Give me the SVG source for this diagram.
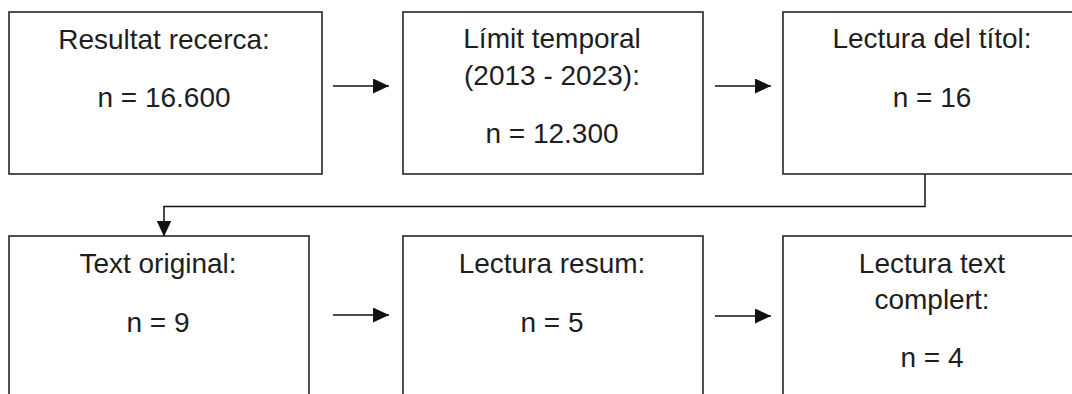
<svg xmlns="http://www.w3.org/2000/svg" width="1072" height="394" viewBox="0 0 1072 394">
  <style>
    .box { fill: #ffffff; stroke: #262626; stroke-width: 1.6; }
    .lbl { font-family: "Liberation Sans", Arial, sans-serif; font-size: 28px; fill: #1e1e1e; text-anchor: middle; }
    .link { fill: none; stroke: #111111; stroke-width: 1.5; }
  </style>
  <defs>
    <marker id="head" markerUnits="userSpaceOnUse" markerWidth="16" markerHeight="15" refX="16" refY="7.5" orient="auto">
      <path d="M0,0 L16,7.5 L0,15 z" fill="#111111"/>
    </marker>
  </defs>
  <rect width="1072" height="394" fill="#ffffff"/>

  <g id="connectors">
    <line class="link" x1="333" y1="86" x2="389" y2="86" marker-end="url(#head)"/>
    <line class="link" x1="715" y1="86" x2="771" y2="86" marker-end="url(#head)"/>
    <path class="link" d="M925,174 V206.5 H164 V236.5" marker-end="url(#head)"/>
    <line class="link" x1="333" y1="315" x2="389" y2="315" marker-end="url(#head)"/>
    <line class="link" x1="715" y1="316" x2="771" y2="316" marker-end="url(#head)"/>
  </g>

  <g id="resultat">
    <rect class="box" x="9" y="12" width="313" height="162"/>
    <text class="lbl" x="164" y="49">Resultat recerca:</text>
    <text class="lbl" x="164" y="107">n = 16.600</text>
  </g>

  <g id="limit">
    <rect class="box" x="403" y="12" width="300" height="162"/>
    <text class="lbl" x="552" y="48">Límit temporal</text>
    <text class="lbl" x="552" y="85">(2013 - 2023):</text>
    <text class="lbl" x="552" y="143">n = 12.300</text>
  </g>

  <g id="titol">
    <rect class="box" x="783" y="12" width="300" height="162"/>
    <text class="lbl" x="932" y="48">Lectura del títol:</text>
    <text class="lbl" x="932" y="107">n = 16</text>
  </g>

  <g id="original">
    <rect class="box" x="9" y="236" width="300" height="170"/>
    <text class="lbl" x="158" y="273">Text original:</text>
    <text class="lbl" x="158" y="332">n = 9</text>
  </g>

  <g id="resum">
    <rect class="box" x="403" y="236" width="300" height="170"/>
    <text class="lbl" x="552" y="273">Lectura resum:</text>
    <text class="lbl" x="552" y="332">n = 5</text>
  </g>

  <g id="complert">
    <rect class="box" x="783" y="236" width="300" height="170"/>
    <text class="lbl" x="932" y="273">Lectura text</text>
    <text class="lbl" x="932" y="309">complert:</text>
    <text class="lbl" x="932" y="367">n = 4</text>
  </g>
</svg>
